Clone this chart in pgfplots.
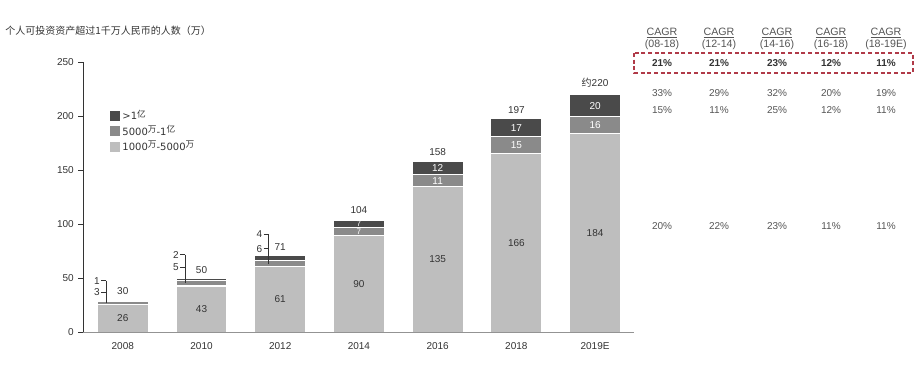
\documentclass[border=0pt]{standalone}
\usepackage{pgfplots}
\pgfplotsset{compat=1.18}
\usepackage{fontspec}
\setmainfont{Liberation Sans}
\newfontfamily\cjk{Noto Sans CJK SC}
\newfontfamily\dv{DejaVu Sans}
\definecolor{cLight}{HTML}{BEBEBE}
\definecolor{cMid}{HTML}{8A8A8A}
\definecolor{cDark}{HTML}{4A4A4A}
\definecolor{txt}{HTML}{333333}
\definecolor{tgray}{HTML}{555555}
\definecolor{cRed}{HTML}{B03A48}
\newcommand{\cjksup}[1]{\raisebox{0.45ex}{\cjk\fontsize{6.5}{6.5}\selectfont #1}}
\newcommand{\lbl}{\fontsize{7.5}{9}\selectfont}
\begin{document}
\begin{tikzpicture}[x=0.75pt,y=0.75pt]
\useasboundingbox (0,0) rectangle (920,367);
% title
\node[anchor=west, inner sep=0pt, text=txt] at (5,336) {\cjk\fontsize{7.5}{9}\selectfont 个人可投资资产超过1千万人民币的人数（万）};
% main axis with stacked bars
\begin{axis}[
  at={(106,32)}, anchor=south west,
  scale only axis, width=413.25pt, height=202.5pt,
  xmin=-0.5, xmax=6.5, ymin=0, ymax=250,
  ybar stacked, bar width=38.25pt,
  axis on top,
  axis x line*=bottom, axis y line*=left,
  x axis line style={draw=gray!85, line width=1.4pt},
  y axis line style={draw=txt, line width=0.6pt},
  xtick={0,1,2,3,4,5,6},
  xticklabels={2008,2010,2012,2014,2016,2018,2019E},
  x tick style={draw=none},
  ytick={0,50,100,150,200,250},
  y tick style={draw=txt, line width=0.6pt},
  tick align=outside, major tick length=3.75pt,
  tick label style={font=\lbl, text=txt},
  /pgf/number format/assume math mode=true,
  legend image code/.code={\fill[#1, draw=none] (0pt,-3.75pt) rectangle (7.5pt,3.75pt);},
  legend style={draw=none, fill=none, at={(0.045,0.84)}, anchor=north west,
    font=\dv\fontsize{7.5}{8}\selectfont, text=txt, row sep=-1pt, inner sep=1pt},
  legend cell align=left,
  reverse legend,
]
\addplot[fill=cLight, draw=white, line width=0.8pt] coordinates {(0,26) (1,43) (2,61) (3,90) (4,135) (5,166) (6,184)};
\addlegendentry{1000\cjksup{万}-5000\cjksup{万}}
\addplot[fill=cMid, draw=white, line width=0.8pt] coordinates {(0,3) (1,5) (2,6) (3,7) (4,11) (5,15) (6,16)};
\addlegendentry{5000\cjksup{万}-1\cjksup{亿}}
\addplot[fill=cDark, draw=white, line width=0.8pt] coordinates {(0,1) (1,2) (2,4) (3,7) (4,12) (5,17) (6,20)};
\addlegendentry{>1\cjksup{亿}}
\end{axis}
% overlay axis with labels
\begin{axis}[
  at={(106,32)}, anchor=south west,
  scale only axis, width=413.25pt, height=202.5pt,
  xmin=-0.5, xmax=6.5, ymin=0, ymax=250,
  hide axis, clip=false,
]
\addplot[draw=none, mark=none,
  nodes near coords, point meta=explicit symbolic,
  every node near coord/.append style={anchor=center, font=\lbl, text=txt}]
  coordinates {(0,13)[26] (1,21.5)[43] (2,30.5)[61] (3,45)[90] (4,67.5)[135] (5,83)[166] (6,92)[184]};
\addplot[draw=none, mark=none,
  nodes near coords, point meta=explicit symbolic,
  every node near coord/.append style={anchor=center, font=\fontsize{6}{6}\selectfont, inner sep=0pt, text=white}]
  coordinates {(3,93.5)[7] (3,100.5)[7]};
\addplot[draw=none, mark=none,
  nodes near coords, point meta=explicit symbolic,
  every node near coord/.append style={anchor=center, font=\lbl, text=white}]
  coordinates {(4,140.5)[11] (4,152)[12] (5,173.5)[15] (5,189.5)[17] (6,192)[16] (6,210)[20]};
\addplot[draw=none, mark=none,
  nodes near coords, point meta=explicit symbolic,
  every node near coord/.append style={anchor=center, font=\lbl, text=txt}]
  coordinates {(0,38)[30] (1,58)[50] (2,79)[71] (3,113)[104] (4,167)[158] (5,206)[197] (6,231)[{\cjk 约}220]};
% leader brackets
\draw[txt, line width=0.6pt] (axis cs:-0.21,48) -- (axis cs:-0.21,27);
\draw[txt, line width=0.6pt] (axis cs:-0.274,48) -- (axis cs:-0.21,48);
\draw[txt, line width=0.6pt] (axis cs:-0.274,37) -- (axis cs:-0.21,37);
\node[anchor=east, inner sep=1pt, font=\lbl, text=txt] at (axis cs:-0.274,48) {1};
\node[anchor=east, inner sep=1pt, font=\lbl, text=txt] at (axis cs:-0.274,37) {3};
\draw[txt, line width=0.6pt] (axis cs:0.795,72) -- (axis cs:0.795,45.6);
\draw[txt, line width=0.6pt] (axis cs:0.731,72) -- (axis cs:0.795,72);
\draw[txt, line width=0.6pt] (axis cs:0.731,60.5) -- (axis cs:0.795,60.5);
\node[anchor=east, inner sep=1pt, font=\lbl, text=txt] at (axis cs:0.731,72) {2};
\node[anchor=east, inner sep=1pt, font=\lbl, text=txt] at (axis cs:0.731,60.5) {5};
\draw[txt, line width=0.6pt] (axis cs:1.854,90.7) -- (axis cs:1.854,63.6);
\draw[txt, line width=0.6pt] (axis cs:1.790,90.7) -- (axis cs:1.854,90.7);
\draw[txt, line width=0.6pt] (axis cs:1.790,77.5) -- (axis cs:1.854,77.5);
\node[anchor=east, inner sep=1pt, font=\lbl, text=txt] at (axis cs:1.790,90.7) {4};
\node[anchor=east, inner sep=1pt, font=\lbl, text=txt] at (axis cs:1.790,77.5) {6};
\end{axis}
% CAGR table
\begin{scope}[every node/.style={font=\fontsize{8}{9}\selectfont, text=tgray, inner sep=0pt}]
\node at (662,334) {\underline{CAGR}};
\node at (719,334) {\underline{CAGR}};
\node at (777,334) {\underline{CAGR}};
\node at (831,334) {\underline{CAGR}};
\node at (886,334) {\underline{CAGR}};
\node at (662,322) {(08-18)};
\node at (719,322) {(12-14)};
\node at (777,322) {(14-16)};
\node at (831,322) {(16-18)};
\node at (886,322) {(18-19E)};
\end{scope}
\begin{scope}[every node/.style={font=\lbl, text=tgray, inner sep=0pt}]
\node[text=txt] at (662,304) {\bfseries 21\%};
\node[text=txt] at (719,304) {\bfseries 21\%};
\node[text=txt] at (777,304) {\bfseries 23\%};
\node[text=txt] at (831,304) {\bfseries 12\%};
\node[text=txt] at (886,304) {\bfseries 11\%};
\node at (662,274) {33\%};
\node at (719,274) {29\%};
\node at (777,274) {32\%};
\node at (831,274) {20\%};
\node at (886,274) {19\%};
\node at (662,257) {15\%};
\node at (719,257) {11\%};
\node at (777,257) {25\%};
\node at (831,257) {12\%};
\node at (886,257) {11\%};
\node at (662,141) {20\%};
\node at (719,141) {22\%};
\node at (777,141) {23\%};
\node at (831,141) {11\%};
\node at (886,141) {11\%};
\end{scope}
\draw[cRed, line width=0.9pt, dash pattern=on 3pt off 2pt] (634,314) rectangle (913,294);
\end{tikzpicture}
\end{document}
